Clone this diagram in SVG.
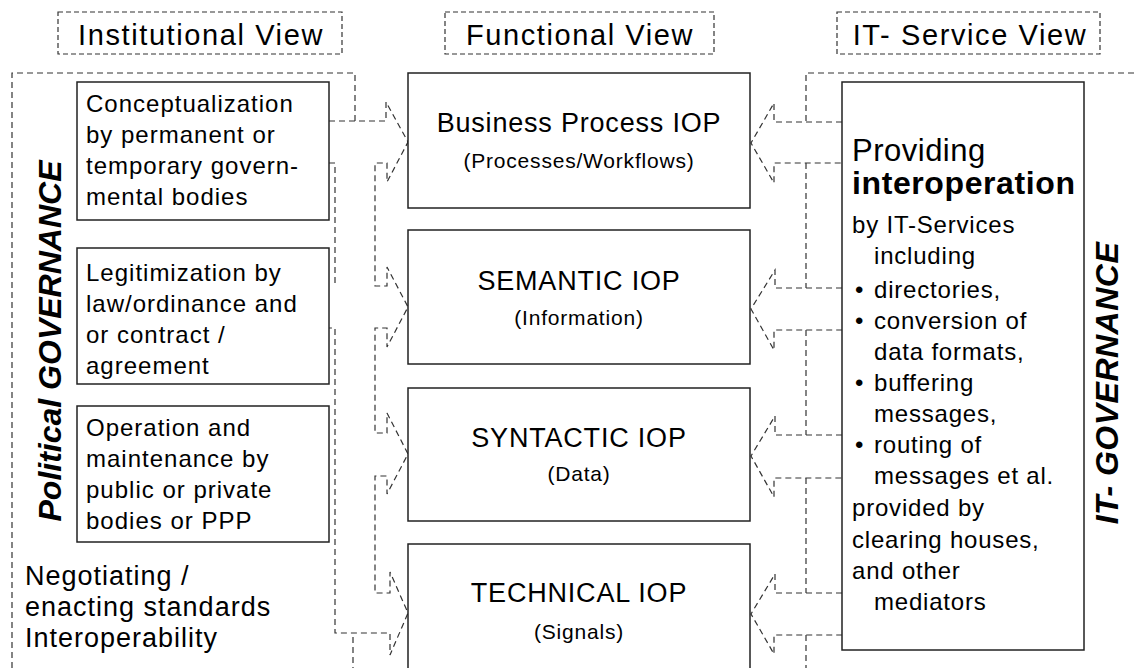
<svg xmlns="http://www.w3.org/2000/svg" width="1134" height="668" viewBox="0 0 1134 668">
  <style>
    text { font-family: "Liberation Sans", Arial, sans-serif; fill: #000; }
    .dash { fill: none; stroke: #333; stroke-width: 1.2; stroke-dasharray: 6 4; }
    .hdr { fill: #fff; stroke: #333; stroke-width: 1.2; stroke-dasharray: 5 3; }
    .box { fill: #fff; stroke: #222; stroke-width: 1.5; }
    .h { font-size: 29px; letter-spacing: 1.6px; text-anchor: middle; }
    .t1 { font-size: 27px; letter-spacing: 0.8px; text-anchor: middle; }
    .t2 { font-size: 21px; letter-spacing: 0.8px; text-anchor: middle; }
    .inst { font-size: 24px; letter-spacing: 1px; }
    .neg { font-size: 27px; letter-spacing: 1px; }
    .side { font-size: 32px; font-weight: bold; font-style: italic; text-anchor: middle; }
    .it { font-size: 24px; letter-spacing: 0.8px; }
    .big { font-size: 31px; letter-spacing: 0.5px; }
    .bold { font-size: 32px; letter-spacing: 0.6px; font-weight: bold; }
  </style>

  <!-- column headers -->
  <g id="hdr-institutional">
    <rect class="hdr" x="58" y="12" width="284" height="42"/>
    <text class="h" x="201" y="45">Institutional View</text>
  </g>
  <g id="hdr-functional">
    <rect class="hdr" x="445" y="12" width="269" height="42"/>
    <text class="h" x="580" y="45">Functional View</text>
  </g>
  <g id="hdr-itservice">
    <rect class="hdr" x="837" y="12" width="263" height="42"/>
    <text class="h" x="970" y="45">IT- Service View</text>
  </g>

  <!-- dashed regions and block-arrow connectors -->
  <g id="connectors">
    <!-- political governance region -->
    <path class="dash" d="M12,668 V73 H355 V121"/>
    <path class="dash" d="M329,121 H386 V102 L408,142 L387,182 V163 H375 V286 H387 V267 L408,307 L387,347 V328 H375 V433 H387 V413 L408,454 L387,494 V476 H375 V593 H390 V572 L408,613 L390,655 V633 H335 V328 H329"/>
    <path class="dash" d="M329,163 H335 V285"/>
    <path class="dash" d="M353,637 V668"/>
    <!-- IT governance region -->
    <path class="dash" d="M1134,73 H806 V122"/>
    <path class="dash" d="M842,122 H774 V103 L751,143 L774,183 V163 H842"/>
    <path class="dash" d="M806,163 V288"/>
    <path class="dash" d="M842,288 H775 V270 L751,309 L774,350 V330 H842"/>
    <path class="dash" d="M806,330 V435"/>
    <path class="dash" d="M842,435 H775 V416 L751,456 L774,497 V478 H842"/>
    <path class="dash" d="M806,478 V593"/>
    <path class="dash" d="M842,593 H775 V574 L751,614 L774,654 V635 H842"/>
    <path class="dash" d="M806,635 V668"/>
  </g>

  <!-- institutional view -->
  <g id="political-governance">
    <text class="side" transform="translate(61,341) rotate(-90)">Political GOVERNANCE</text>
  </g>
  <g id="inst-conceptualization">
    <rect class="box" x="77" y="82" width="252" height="138"/>
    <text class="inst" x="86" y="112">Conceptualization</text>
    <text class="inst" x="86" y="143">by permanent or</text>
    <text class="inst" x="86" y="174">temporary govern-</text>
    <text class="inst" x="86" y="205">mental bodies</text>
  </g>
  <g id="inst-legitimization">
    <rect class="box" x="77" y="248" width="252" height="136"/>
    <text class="inst" x="86" y="281">Legitimization by</text>
    <text class="inst" x="86" y="312">law/ordinance and</text>
    <text class="inst" x="86" y="343">or contract /</text>
    <text class="inst" x="86" y="374">agreement</text>
  </g>
  <g id="inst-operation">
    <rect class="box" x="77" y="406" width="252" height="136"/>
    <text class="inst" x="86" y="436">Operation and</text>
    <text class="inst" x="86" y="467">maintenance by</text>
    <text class="inst" x="86" y="498">public or private</text>
    <text class="inst" x="86" y="529">bodies or PPP</text>
  </g>
  <g id="inst-negotiating">
    <text class="neg" x="25" y="585">Negotiating /</text>
    <text class="neg" x="25" y="616">enacting standards</text>
    <text class="neg" x="25" y="647">Interoperability</text>
  </g>

  <!-- functional view -->
  <g id="iop-business">
    <rect class="box" x="408" y="73" width="342" height="135"/>
    <text class="t1" x="579" y="132">Business Process IOP</text>
    <text class="t2" x="579" y="168">(Processes/Workflows)</text>
  </g>
  <g id="iop-semantic">
    <rect class="box" x="408" y="230" width="342" height="134"/>
    <text class="t1" x="579" y="290">SEMANTIC IOP</text>
    <text class="t2" x="579" y="325">(Information)</text>
  </g>
  <g id="iop-syntactic">
    <rect class="box" x="408" y="388" width="342" height="133"/>
    <text class="t1" x="579" y="447">SYNTACTIC IOP</text>
    <text class="t2" x="579" y="481">(Data)</text>
  </g>
  <g id="iop-technical">
    <rect class="box" x="408" y="544" width="342" height="140"/>
    <text class="t1" x="579" y="602">TECHNICAL IOP</text>
    <text class="t2" x="579" y="639">(Signals)</text>
  </g>

  <!-- IT-service view -->
  <g id="it-services">
    <rect class="box" x="842" y="82" width="242" height="568"/>
    <text class="big" x="852" y="161">Providing</text>
    <text class="bold" x="852" y="194">interoperation</text>
    <text class="it" x="852" y="233">by IT-Services</text>
    <text class="it" x="874" y="264">including</text>
    <text class="it" x="855" y="298">•</text>
    <text class="it" x="874" y="298">directories,</text>
    <text class="it" x="855" y="329">•</text>
    <text class="it" x="874" y="329">conversion of</text>
    <text class="it" x="874" y="360">data formats,</text>
    <text class="it" x="855" y="391">•</text>
    <text class="it" x="874" y="391">buffering</text>
    <text class="it" x="874" y="422">messages,</text>
    <text class="it" x="855" y="453">•</text>
    <text class="it" x="874" y="453">routing of</text>
    <text class="it" x="874" y="484">messages et al.</text>
    <text class="it" x="852" y="516">provided by</text>
    <text class="it" x="852" y="548">clearing houses,</text>
    <text class="it" x="852" y="579">and other</text>
    <text class="it" x="874" y="610">mediators</text>
  </g>
  <g id="it-governance">
    <text class="side" style="letter-spacing:0.5px" transform="translate(1118,383) rotate(-90)">IT- GOVERNANCE</text>
  </g>
</svg>
